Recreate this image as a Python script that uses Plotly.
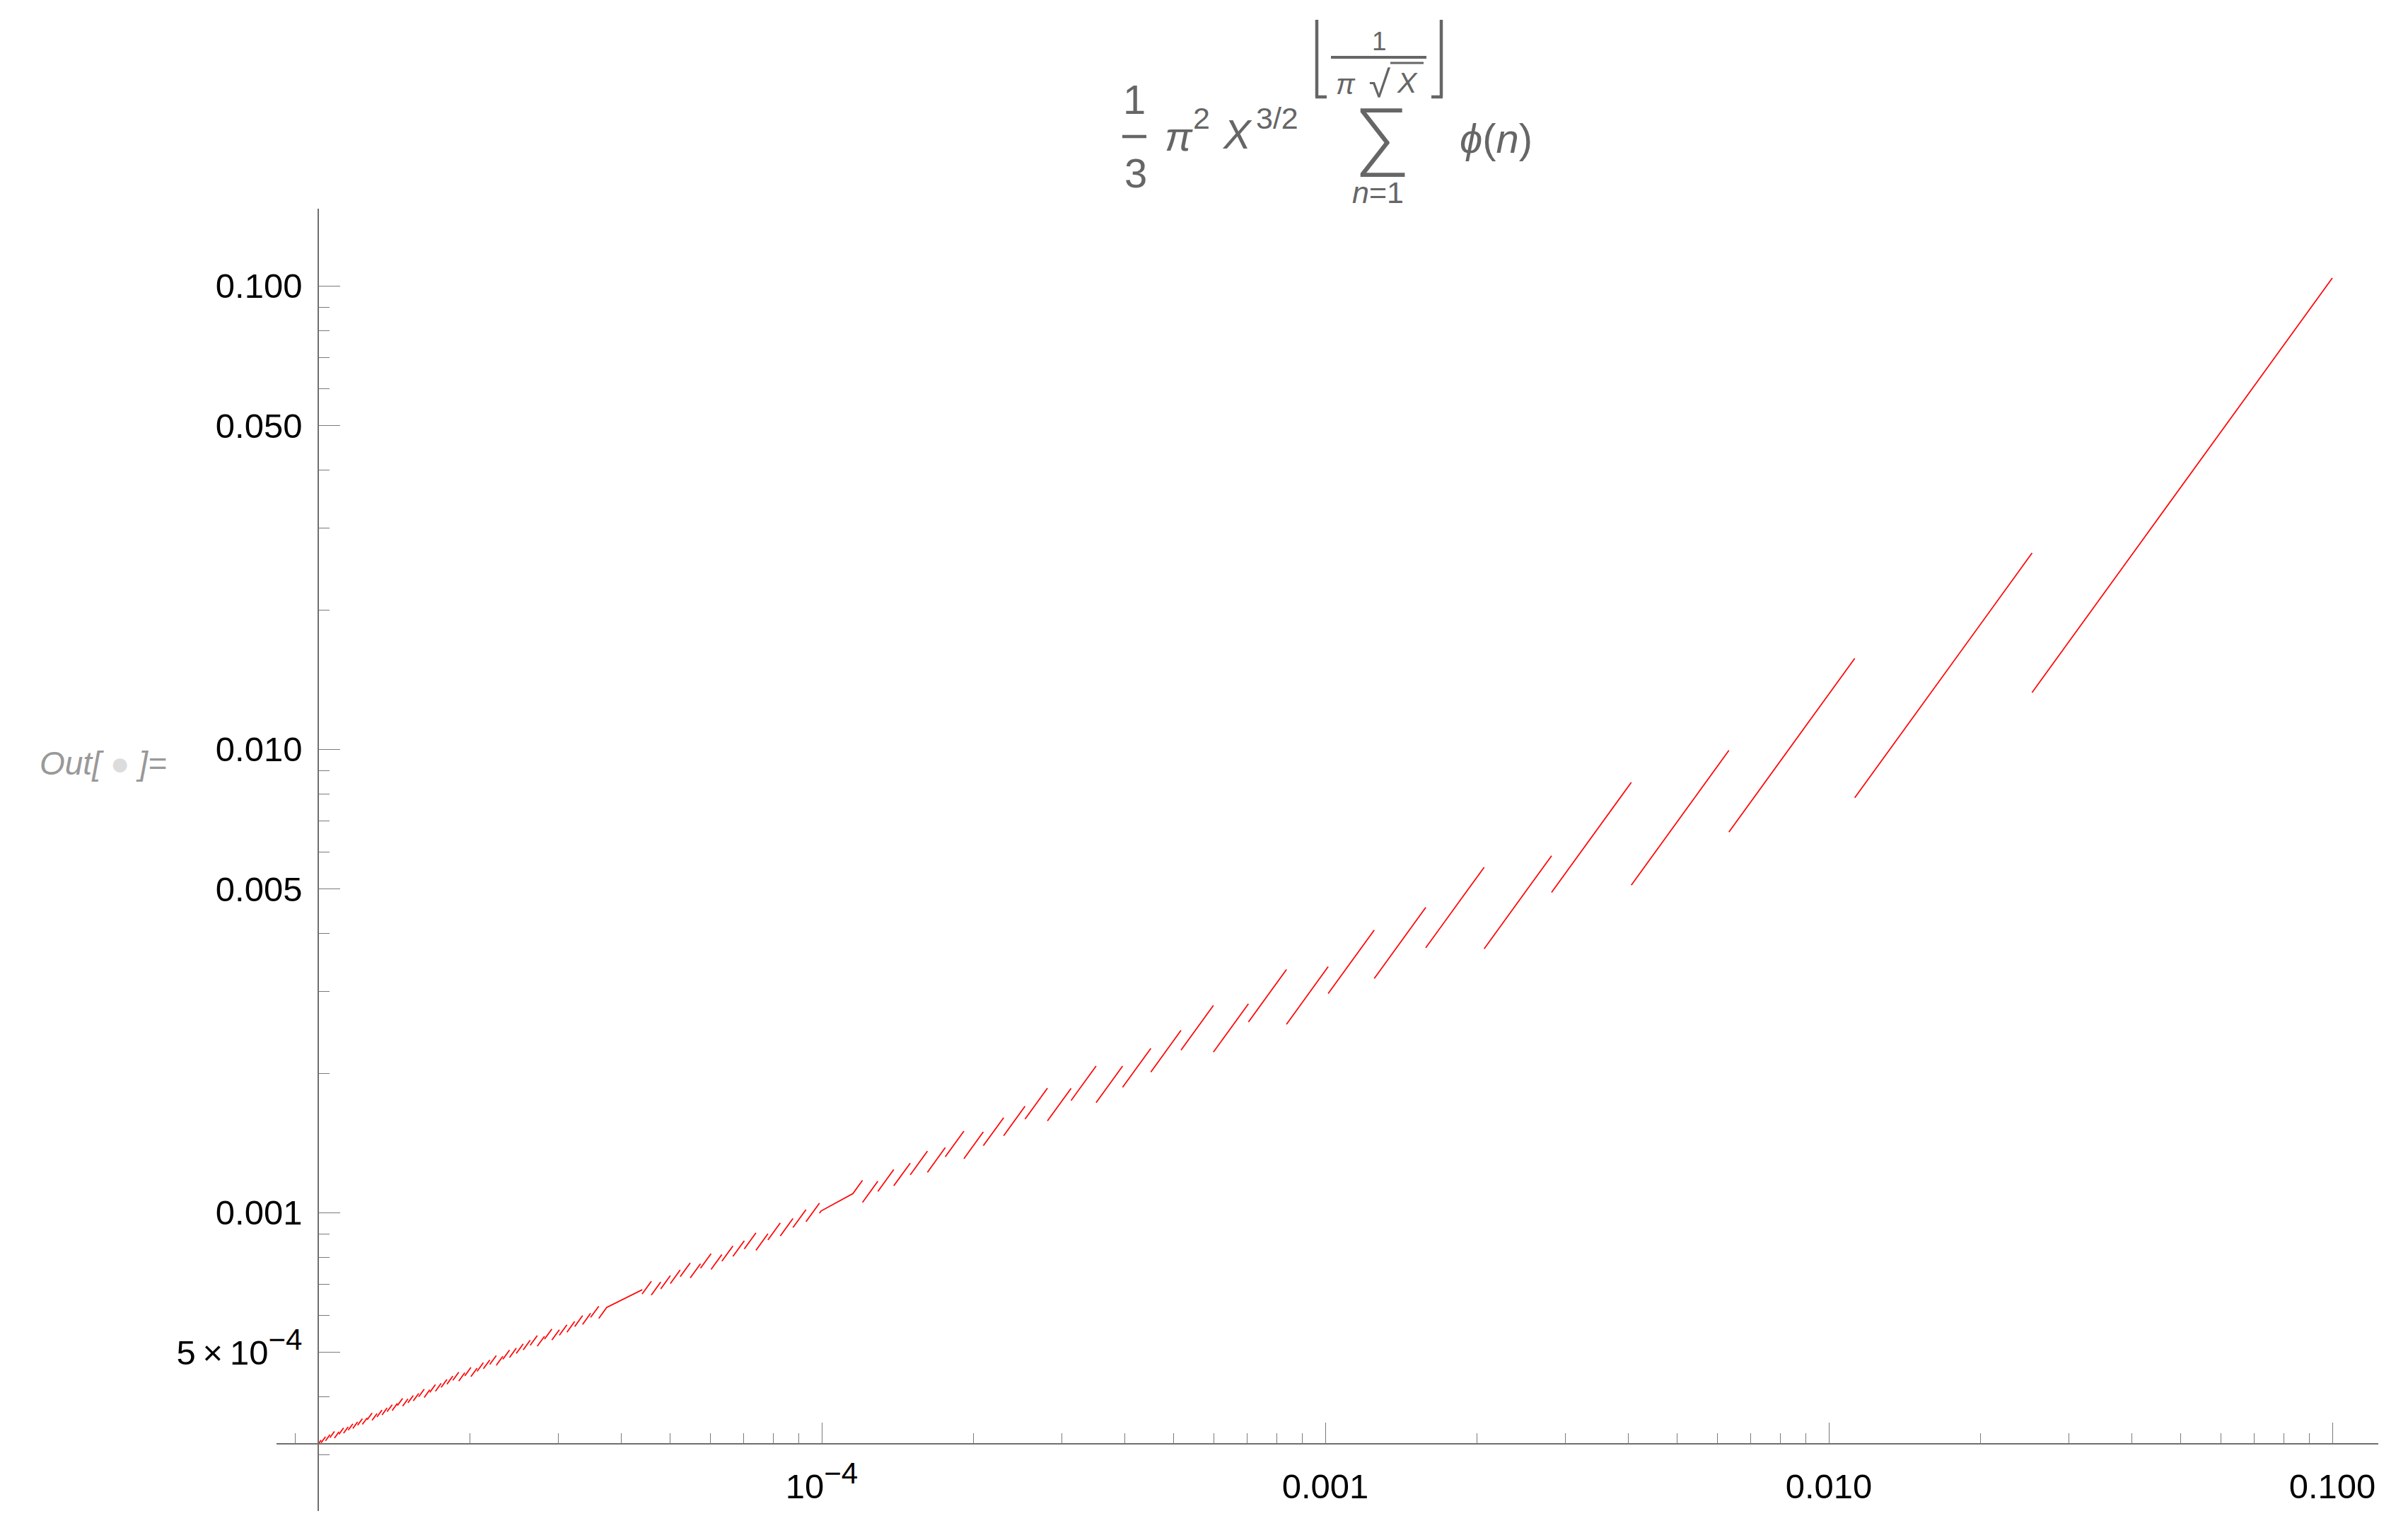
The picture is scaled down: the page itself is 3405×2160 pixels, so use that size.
import math
import plotly.graph_objects as go

# ---------------- data ----------------
plot_x_domain = [1e-5, 0.1]
# partial sums of Euler's totient, sum_{n<=N} phi(n), for N = 1..100
euler_phi_partial_sums = [
    1, 2, 4, 6, 10, 12, 18, 22, 28, 32, 42, 46, 58, 64, 72, 80, 96, 102, 120, 128,
    140, 150, 172, 180, 200, 212, 230, 242, 270, 278, 308, 324, 344, 360, 384, 396, 432, 450, 474, 490,
    530, 542, 584, 604, 628, 650, 696, 712, 754, 774, 806, 830, 882, 900, 940, 964, 1000, 1028, 1086, 1102,
    1162, 1192, 1228, 1260, 1308, 1328, 1394, 1426, 1470, 1494, 1564, 1588, 1660, 1696, 1736, 1772, 1832, 1856, 1934, 1966,
    2020, 2060, 2142, 2166, 2230, 2272, 2328, 2368, 2456, 2480, 2552, 2596, 2656, 2702, 2774, 2806, 2902, 2944, 3004, 3044,
]
# places where the original plot's sampler joined across jumps with a straight chord
sampler_chord_start_x = [3.74e-5, 9.97e-5]
sampler_chord_end_x = [4.39e-5, 1.153e-4]

x_major_ticks = [1e-4, 1e-3, 1e-2, 1e-1]
x_major_labels = ["10<sup><span style='font-size:42px'>\u22124</span></sup>", "0.001", "0.010", "0.100"]
x_minor_ticks = [9e-6,
                 2e-5, 3e-5, 4e-5, 5e-5, 6e-5, 7e-5, 8e-5, 9e-5,
                 2e-4, 3e-4, 4e-4, 5e-4, 6e-4, 7e-4, 8e-4, 9e-4,
                 2e-3, 3e-3, 4e-3, 5e-3, 6e-3, 7e-3, 8e-3, 9e-3,
                 2e-2, 3e-2, 4e-2, 5e-2, 6e-2, 7e-2, 8e-2, 9e-2]
y_major_ticks = [5e-4, 1e-3, 5e-3, 1e-2, 5e-2, 1e-1]
y_major_labels = ["5\u2009\u00d7\u200910<sup><span style='font-size:42px'>\u22124</span></sup>",
                  "0.001", "0.005", "0.010", "0.050", "0.100"]
y_minor_ticks = [3e-4, 4e-4, 6e-4, 7e-4, 8e-4, 9e-4,
                 2e-3, 3e-3, 4e-3, 6e-3, 7e-3, 8e-3, 9e-3,
                 2e-2, 3e-2, 4e-2, 6e-2, 7e-2, 8e-2, 9e-2]

# ---------------- build the curve ----------------
C = math.pi ** 2 / 3.0


def value(X, S):
    return C * X ** 1.5 * S


x0, x1 = plot_x_domain
pieces = []
for i, S in enumerate(euler_phi_partial_sums):
    N = i + 1
    lo = max(1.0 / (math.pi * (N + 1)) ** 2, x0)
    hi = min(1.0 / (math.pi * N) ** 2, x1)
    if lo < hi:
        pieces.append({"lo": lo, "hi": hi, "S": S})
pieces.sort(key=lambda p: p["lo"])
polylines = [[(p["lo"], p["S"]), (p["hi"], p["S"])] for p in pieces]

for a, b in sorted(zip(sampler_chord_start_x, sampler_chord_end_x), reverse=True):
    ia = next(k for k, p in enumerate(pieces) if p["lo"] <= a < p["hi"])
    ib = next(k for k, p in enumerate(pieces) if p["lo"] < b <= p["hi"])
    merged = [(pieces[ia]["lo"], pieces[ia]["S"]), (a, pieces[ia]["S"]),
              (b, pieces[ib]["S"]), (pieces[ib]["hi"], pieces[ib]["S"])]
    polylines[ia:ib + 1] = [merged]

xs, ys = [], []
for pl in polylines:
    for X, S in pl:
        xs.append(X)
        ys.append(value(X, S))
    xs.append(None)
    ys.append(None)

# ---------------- layout geometry ----------------
# the page body has an 8px default margin, so the figure is drawn 8px in from the corner
OFF = 8
W, H = 3405 - OFF, 2160 - OFF
PL, PR, PT, PB = 391, 3363, 295, 2136   # plot area in page pixels
ML, MR, MT, MB = PL - OFF, W + OFF - PR, PT - OFF, H + OFF - PB
x_range = [-5.0829, -0.9087]
y_range = [-3.6438, -0.8331]

origin_x = xs[0]
origin_y = ys[0]
xaxis_pos = (math.log10(origin_y) - y_range[0]) / (y_range[1] - y_range[0])
yaxis_pos = (math.log10(origin_x) - x_range[0]) / (x_range[1] - x_range[0])


def px(x):
    return (x - PL) / (PR - PL)


def py(y):
    return (PB - y) / (PB - PT)


AXIS = "#6f6f6f"
TICK = "#7a7a7a"
TITLE = "#666666"
FONT = "Liberation Sans, Arial, sans-serif"
THIN = "Roboto, DejaVu Sans, sans-serif"

fig = go.Figure()
fig.add_trace(go.Scatter(x=xs, y=ys, mode="lines",
                         line=dict(color="#ff0000", width=1.7),
                         connectgaps=False, hoverinfo="skip", showlegend=False))

annotations = []


def ann(text, x, y, size, color=TITLE, xanchor="center", family=FONT, weight="normal"):
    annotations.append(dict(text=text, x=px(x), y=py(y), xref="paper", yref="paper",
                            showarrow=False, xanchor=xanchor, yanchor="middle",
                            font=dict(size=size, color=color, family=family, weight=weight),
                            borderpad=0))


# title formula pieces
ann("1", 1604, 141, 58)
ann("3", 1606, 245, 58)
ann("<i>\u03c0</i>", 1667, 192, 58)
ann("2", 1699, 167, 43)
ann("<i>X</i>", 1749, 189, 58)
ann("3/2", 1806, 167, 43)
ann("\u2211", 1953, 195, 115, family=THIN, weight=300)
ann("<i>n</i>=1", 1948, 272, 43)
ann("1", 1950, 58, 37)
ann("<i>\u03c0</i>", 1903, 119, 40)
ann("\u221a", 1951, 117, 60, family=THIN, weight=300)
ann("<i>X</i>", 1990, 117, 41)
ann("<i>\u03d5</i>(<i>n</i>)", 2063, 195, 58, xanchor="left")
# Out label
ann("<i>Out[ <span style='color:#dcdcdc'>\u25cf</span> ]=</i>", 55, 1079, 46,
    color="#999999", xanchor="left")


def seg(xa, ya, xb, yb, width):
    return dict(type="line", xref="paper", yref="paper", x0=px(xa), x1=px(xb), y0=py(ya), y1=py(yb),
                line=dict(color=TITLE, width=width))


shapes = [
    seg(1587, 193, 1621, 193, 4.5),     # 1/3 fraction bar
    seg(1882, 81, 2017, 81, 4),         # inner fraction bar
    seg(1966, 89, 2013, 89, 3),         # radical vinculum
    # floor brackets
    seg(1862, 28, 1862, 137, 4.5),
    seg(1860, 137, 1876, 137, 4.5),
    seg(2038, 28, 2038, 137, 4.5),
    seg(2024, 137, 2040, 137, 4.5),
]

fig.update_layout(
    width=W, height=H, autosize=False,
    margin=dict(l=ML, r=MR, t=MT, b=MB, pad=0),
    paper_bgcolor="white", plot_bgcolor="white",
    showlegend=False,
    annotations=annotations,
    shapes=shapes,
    xaxis=dict(type="log", range=x_range, anchor="free", position=xaxis_pos, side="bottom",
               showline=True, linecolor=AXIS, linewidth=1.6,
               showgrid=False, zeroline=False,
               ticks="inside", ticklen=30, tickwidth=1.4, tickcolor=TICK,
               tickmode="array", tickvals=x_major_ticks, ticktext=x_major_labels,
               tickfont=dict(family=FONT, size=49, color="black"),
               ticklabelstandoff=17,
               minor=dict(tickmode="array", tickvals=x_minor_ticks, ticks="inside",
                          ticklen=15, tickwidth=1.2, tickcolor=TICK, showgrid=False)),
    yaxis=dict(type="log", range=y_range, anchor="free", position=yaxis_pos, side="left",
               showline=True, linecolor=AXIS, linewidth=1.6,
               showgrid=False, zeroline=False,
               ticks="inside", ticklen=30, tickwidth=1.4, tickcolor=TICK,
               tickmode="array", tickvals=y_major_ticks, ticktext=y_major_labels,
               tickfont=dict(family=FONT, size=49, color="black"),
               ticklabelstandoff=12,
               minor=dict(tickmode="array", tickvals=y_minor_ticks, ticks="inside",
                          ticklen=15, tickwidth=1.2, tickcolor=TICK, showgrid=False)),
)

fig.write_html("out.html")
